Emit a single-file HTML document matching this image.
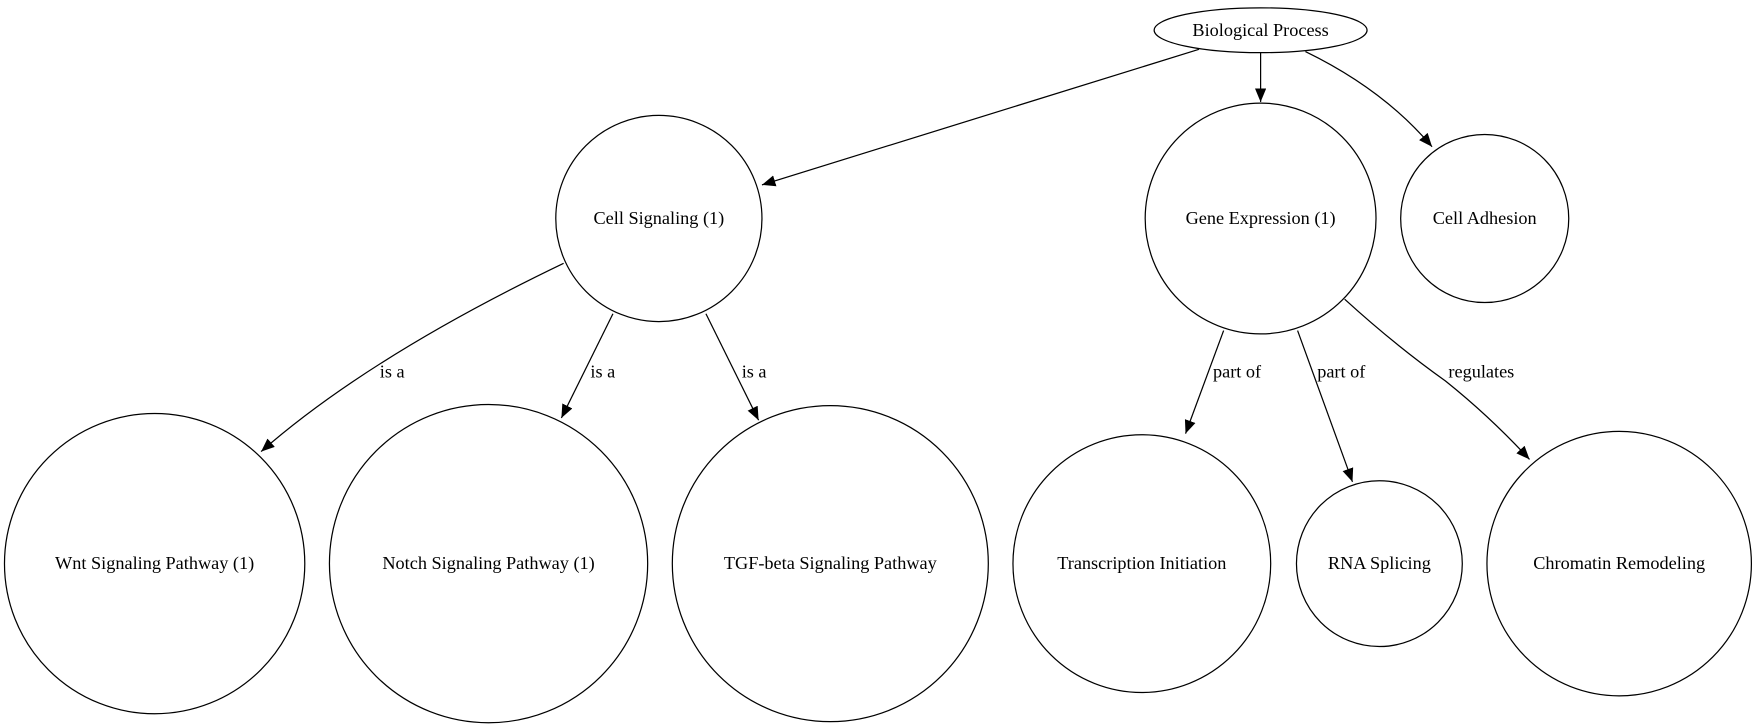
<!DOCTYPE html>
<html><head><meta charset="utf-8"><style>html,body{margin:0;padding:0;background:#fff}svg{display:block}text{font-family:"Liberation Serif","Times New Roman",serif;font-size:16.3px}</style></head>
<body>
<svg width="1757" height="728" viewBox="0 0 1568 649.7" preserveAspectRatio="none" xmlns="http://www.w3.org/2000/svg" text-anchor="middle">
<defs><marker id="a" markerWidth="12" markerHeight="10" refX="12" refY="5" orient="auto" markerUnits="userSpaceOnUse"><path d="M0,0 L12,5 L0,10 z" fill="#000"/></marker></defs>
<g fill="none" stroke="#000" stroke-width="1.1">
<ellipse cx="1125" cy="27" rx="95" ry="20"/>
<circle cx="588" cy="195" r="92"/>
<circle cx="1125" cy="195" r="103"/>
<circle cx="1325" cy="195" r="75"/>
<circle cx="138" cy="503" r="134"/>
<circle cx="436" cy="503" r="142"/>
<circle cx="741" cy="503" r="141"/>
<circle cx="1019" cy="503" r="115"/>
<circle cx="1231" cy="503" r="74"/>
<circle cx="1445" cy="503" r="118"/>
<g marker-end="url(#a)">
<path d="M1070,44 L680,165"/>
<path d="M1125,47 L1125,91"/>
<path d="M1165,46 Q1235,80 1278,131"/>
<path d="M503,235 Q330,318 233,403"/>
<path d="M547,280 L501,373"/>
<path d="M630,280 L677,375"/>
<path d="M1092,295 L1058,387"/>
<path d="M1158,295 L1207,430"/>
<path d="M1200,267 Q1245,308 1290,340 Q1330,372 1365,410"/>
</g></g>
<g fill="#000">
<text x="1125" y="32">Biological Process</text>
<text x="588" y="200">Cell Signaling (1)</text>
<text x="1125" y="200">Gene Expression (1)</text>
<text x="1325" y="200">Cell Adhesion</text>
<text x="138" y="508">Wnt Signaling Pathway (1)</text>
<text x="436" y="508">Notch Signaling Pathway (1)</text>
<text x="741" y="508">TGF-beta Signaling Pathway</text>
<text x="1019" y="508">Transcription Initiation</text>
<text x="1231" y="508">RNA Splicing</text>
<text x="1445" y="508">Chromatin Remodeling</text>
<text x="350" y="337">is a</text>
<text x="538" y="337">is a</text>
<text x="673" y="337">is a</text>
<text x="1104" y="337">part of</text>
<text x="1197" y="337">part of</text>
<text x="1322" y="337">regulates</text>
</g>
</svg>
</body></html>
